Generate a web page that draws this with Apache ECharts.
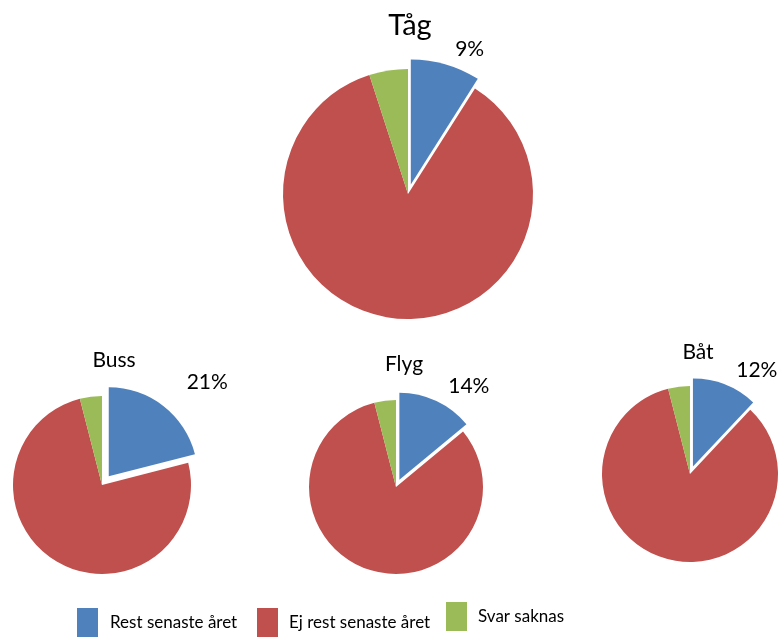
<!DOCTYPE html>
<html>
<head>
<meta charset="utf-8">
<script src="https://cdn.jsdelivr.net/npm/echarts@6/dist/echarts.min.js"></script>
<style>
  html, body { margin: 0; padding: 0; background: #fff; }
  #chart { width: 783px; height: 637px; }
</style>
</head>
<body>
<div id="chart"></div>
<script>
// andel i procent per färdsätt
const categories = ['Rest senaste året', 'Ej rest senaste året', 'Svar saknas']
const modes = ['Tåg', 'Buss', 'Flyg', 'Båt']
const tagValues = [9, 86, 5]
const bussValues = [21, 75, 4]
const flygValues = [14, 82, 4]
const batValues = [12, 84, 4]

const colors = ['#4F81BD', '#C0504D', '#9BBB59']
const font = 'Lato, "Open Sans", sans-serif'

// layout för varje paj
const layout = [
  { values: tagValues, center: [408, 194], radius: 125, offset: 10, labelLen: 16, title: [405, 6], titleSize: 29 },
  { values: bussValues, center: [102, 485], radius: 89, offset: 11, labelLen: 30, title: [109, 345], titleSize: 21 },
  { values: flygValues, center: [396, 487], radius: 87, offset: 8, labelLen: 16, title: [399, 349], titleSize: 21 },
  { values: batValues, center: [690, 474], radius: 88, offset: 8, labelLen: 16, title: [693, 337], titleSize: 21 }
]

function buildData(values) {
  return values.map(function(v, i) {
    return {
      name: categories[i],
      value: v,
      selected: i === 0,
      itemStyle: { color: colors[i] },
      label: { show: i === 0 }
    }
  })
}

const chart = echarts.init(document.getElementById('chart'))
chart.setOption({
  animation: false,
  title: layout.map(function(l, i) {
    return {
      text: modes[i],
      left: l.title[0],
      top: l.title[1],
      textAlign: 'center',
      textStyle: { fontFamily: font, fontSize: l.titleSize, fontWeight: 'normal', color: '#000' }
    }
  }),
  legend: [
    { left: 77, top: 608, pad: [10, 0, 0, 7] },
    { left: 257, top: 608, pad: [-2, 0, 0, 6] },
    { left: 446, top: 602, pad: [0, 0, 0, 6] }
  ].map(function(l, i) {
    return {
      data: [categories[i]],
      left: l.left,
      top: l.top,
      padding: 0,
      itemWidth: 21,
      itemHeight: 29,
      selectedMode: false,
      icon: 'rect',
      itemStyle: { color: colors[i] },
      textStyle: { fontFamily: font, fontSize: 17, color: '#000', padding: l.pad }
    }
  }),
  series: layout.map(function(l, i) {
    return {
      type: 'pie',
      name: modes[i],
      center: l.center,
      radius: l.radius,
      startAngle: 90,
      clockwise: true,
      selectedMode: 'multiple',
      selectedOffset: l.offset,
      emphasis: { disabled: true },
      itemStyle: { borderColor: '#fff', borderWidth: 0 },
      label: {
        position: 'outside',
        formatter: '{c}%',
        overflow: 'none',
        edgeDistance: 0,
        fontFamily: font,
        fontSize: 21,
        color: '#000'
      },
      labelLine: { show: false, length: l.labelLen, length2: 0 },
      data: buildData(l.values)
    }
  })
})
</script>
</body>
</html>
